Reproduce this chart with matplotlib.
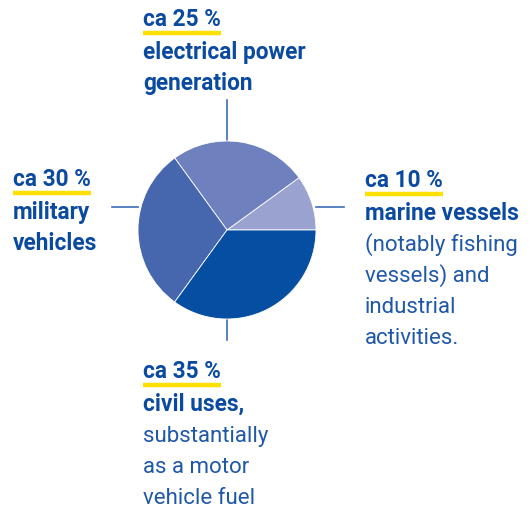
import matplotlib
matplotlib.use('Agg')
import matplotlib.pyplot as plt

W, H = 531, 509

# data
shares = [10, 25, 30, 35]
headings = ['ca 10 %', 'ca 25 %', 'ca 30 %', 'ca 35 %']
colors = ['#9aa3d0', '#6f80be', '#4666ae', '#064ea2']
bold_lines = [['marine vessels'], ['electrical power', 'generation'],
              ['military', 'vehicles'], ['civil uses,']]
light_lines = [['(notably fishing', 'vessels) and', 'industrial', 'activities.'],
               [], [], ['substantially', 'as a motor', 'vehicle fuel']]

# layout in pixels (top-left origin)
cx, cy, r = 227, 230, 89
label_pos = [(365, 187), (143, 26), (13, 186), (143, 378)]
leaders = [((316, 207), (344, 207)), ((227, 100), (227, 141)),
           ((112, 207), (138, 207)), ((227, 319), (227, 340))]

dark = '#0a4aa0'
body = '#1f58a8'
yellow = '#ffe000'
pitch = 31.2

plt.rcParams['font.family'] = ['Roboto', 'DejaVu Sans']

fig = plt.figure(figsize=(W / 100, H / 100), dpi=100)
ax = fig.add_axes([0, 0, 1, 1])


def Y(py):
    return H - py


for (x0, y0), (x1, y1) in leaders:
    ax.plot([x0, x1], [Y(y0), Y(y1)], color='#3d6db5', lw=1.2, zorder=1)

ax.pie(shares, colors=colors, startangle=0, counterclock=True,
       center=(cx, Y(cy)), radius=r, frame=True,
       wedgeprops=dict(linewidth=0.6, edgecolor='white'))
ax.set_xlim(0, W)
ax.set_ylim(0, H)
ax.set_aspect('equal')
ax.axis('off')

fs = 16.3
heads = []
for i, (x, y) in enumerate(label_pos):
    t = ax.text(x, Y(y), headings[i], fontsize=fs, fontweight='bold',
                color=dark, ha='left', va='baseline')
    heads.append(t)
    yy = y + pitch + 1.5
    for s in bold_lines[i]:
        ax.text(x, Y(yy), s, fontsize=fs, fontweight='bold', color=dark,
                ha='left', va='baseline')
        yy += pitch
    for s in light_lines[i]:
        ax.text(x, Y(yy), s, fontsize=fs - 0.3, fontweight='normal', color=body,
                ha='left', va='baseline')
        yy += pitch

fig.canvas.draw()
inv = ax.transData.inverted()
for i, t in enumerate(heads):
    bb = t.get_window_extent()
    (xa, _), (xb, _) = inv.transform([(bb.x0, 0), (bb.x1, 0)])
    uy = label_pos[i][1] + 7
    ax.plot([xa, xb], [Y(uy), Y(uy)], color=yellow, lw=3.2,
            solid_capstyle='butt', zorder=0)

fig.savefig('out.png', dpi=100)
